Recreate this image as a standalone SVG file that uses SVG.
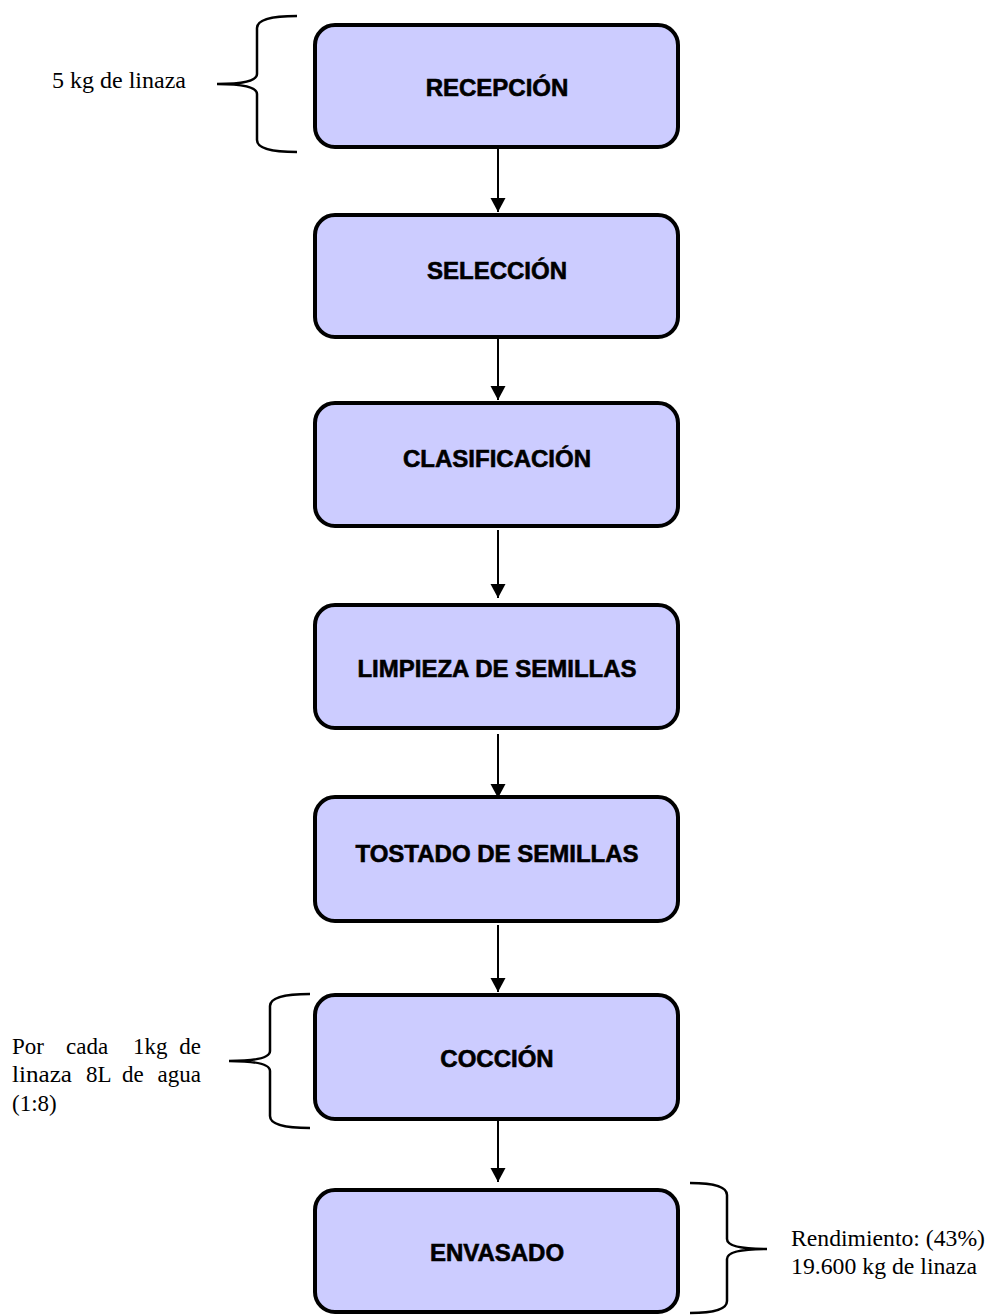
<svg xmlns="http://www.w3.org/2000/svg" width="990" height="1316" viewBox="0 0 990 1316">
<style>
.box{fill:#CCCCFF;stroke:#000;stroke-width:4}
.lbl{font-family:"Liberation Sans",Arial,sans-serif;font-weight:bold;font-size:24px;text-anchor:middle;fill:#000;stroke:#000;stroke-width:0.6}
.note{font-family:"Liberation Serif","Times New Roman",serif;font-size:23px;fill:#000}
.brace{fill:none;stroke:#000;stroke-width:2.5}
.arr{stroke:#000;stroke-width:2;fill:none}
</style>
<defs>
<marker id="ah" markerUnits="userSpaceOnUse" markerWidth="16" markerHeight="16" viewBox="0 0 16 16" refX="14" refY="8" orient="auto">
<path d="M0,0.5 L14,8 L0,15.5 Z" fill="#000"/>
</marker>
</defs>
<rect width="990" height="1316" fill="#fff"/>
<g id="connectors">
<line class="arr" x1="498" y1="149" x2="498" y2="212" marker-end="url(#ah)"/>
<line class="arr" x1="498" y1="336" x2="498" y2="400" marker-end="url(#ah)"/>
<line class="arr" x1="498" y1="530" x2="498" y2="598" marker-end="url(#ah)"/>
<line class="arr" x1="498" y1="734" x2="498" y2="798" marker-end="url(#ah)"/>
<line class="arr" x1="498" y1="925" x2="498" y2="992" marker-end="url(#ah)"/>
<line class="arr" x1="498" y1="1115" x2="498" y2="1182" marker-end="url(#ah)"/>
</g>
<g id="recepcion">
<rect class="box" x="315" y="25" width="363" height="122" rx="20"/>
<text class="lbl" x="497" y="95.5">RECEPCIÓN</text>
</g>
<g id="seleccion">
<rect class="box" x="315" y="215" width="363" height="122" rx="20"/>
<text class="lbl" x="497" y="278.5">SELECCIÓN</text>
</g>
<g id="clasificacion">
<rect class="box" x="315" y="403" width="363" height="123" rx="20"/>
<text class="lbl" x="497" y="466.5">CLASIFICACIÓN</text>
</g>
<g id="limpieza">
<rect class="box" x="315" y="605" width="363" height="123" rx="20"/>
<text class="lbl" x="497" y="676.5">LIMPIEZA DE SEMILLAS</text>
</g>
<g id="tostado">
<rect class="box" x="315" y="797" width="363" height="124" rx="20"/>
<text class="lbl" x="497" y="861.5">TOSTADO DE SEMILLAS</text>
</g>
<g id="coccion">
<rect class="box" x="315" y="995" width="363" height="124" rx="20"/>
<text class="lbl" x="497" y="1066.5">COCCIÓN</text>
</g>
<g id="envasado">
<rect class="box" x="315" y="1190" width="363" height="122" rx="20"/>
<text class="lbl" x="497" y="1260.5">ENVASADO</text>
</g>
<g id="nota-recepcion">
<path class="brace" d="M297,16 Q257,16 257,28 L257,74 Q257,84 217,84 Q257,84 257,94 L257,140 Q257,152 297,152"/>
<text class="note" x="52" y="88" textLength="134" lengthAdjust="spacingAndGlyphs">5 kg de linaza</text>
</g>
<g id="nota-coccion">
<path class="brace" d="M310,994 Q270,994 270,1006 L270,1051 Q270,1061 229,1061 Q270,1061 270,1071 L270,1116 Q270,1128 310,1128"/>
<text class="note" y="1054"><tspan x="12">Por</tspan><tspan x="66">cada</tspan><tspan x="133">1kg</tspan><tspan x="201" text-anchor="end">de</tspan></text>
<text class="note" y="1082"><tspan x="12" textLength="60" lengthAdjust="spacingAndGlyphs">linaza</tspan><tspan x="86">8L</tspan><tspan x="122">de</tspan><tspan x="201" text-anchor="end">agua</tspan></text>
<text class="note" x="12" y="1111">(1:8)</text>
</g>
<g id="nota-envasado">
<path class="brace" d="M690,1183 Q727,1183 727,1195 L727,1239 Q727,1249 767,1249 Q727,1249 727,1259 L727,1301 Q727,1313 690,1313"/>
<text class="note" x="791" y="1246" textLength="194" lengthAdjust="spacingAndGlyphs">Rendimiento: (43%)</text>
<text class="note" x="791" y="1274" textLength="186" lengthAdjust="spacingAndGlyphs">19.600 kg de linaza</text>
</g>
</svg>
